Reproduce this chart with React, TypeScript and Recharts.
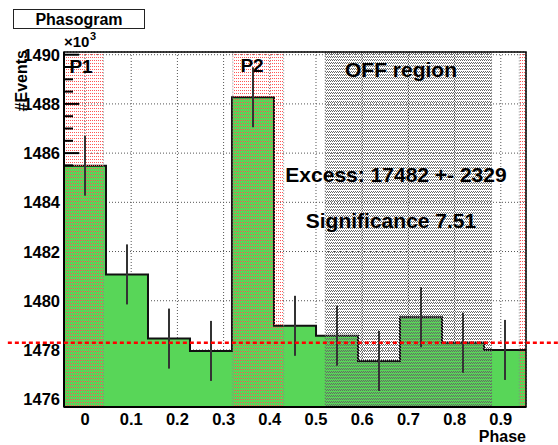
import {
  Area,
  CartesianGrid,
  ComposedChart,
  ErrorBar,
  ReferenceArea,
  ReferenceLine,
  Scatter,
  XAxis,
  YAxis,
} from "recharts"

// Phasogram, counts per phase bin in units of 10^3 events
const binCenters = [0, 0.0909, 0.1818, 0.2727, 0.3636, 0.4545, 0.5455, 0.6364, 0.7273, 0.8182, 0.9091]
const binWidth = 0.0909
const counts = [1485.49, 1481.07, 1478.46, 1477.96, 1488.27, 1478.98, 1478.58, 1477.55, 1479.33, 1478.29, 1478.0]
const errors = [1.22, 1.22, 1.22, 1.22, 1.22, 1.22, 1.22, 1.22, 1.22, 1.22, 1.22]
const offLevel = 1478.29

// phase regions
const p1Regions = [
  [-0.0455, 0.04],
  [0.94, 0.9545],
]
const p2Region = [0.32, 0.43]
const offRegion = [0.52, 0.88]

const xTicks = [0, 0.1, 0.2, 0.3, 0.4, 0.5, 0.6, 0.7, 0.8, 0.9]
const yTicks = [1476, 1478, 1480, 1482, 1484, 1486, 1488, 1490]
const yMinorTicks = [1476.5, 1477, 1477.5, 1478.5, 1479, 1479.5, 1480.5, 1481, 1481.5, 1482.5, 1483, 1483.5, 1484.5, 1485, 1485.5, 1486.5, 1487, 1487.5, 1488.5, 1489, 1489.5]

const xDomain = [-0.04545, 0.95455]
const yDomain = [1475.68, 1490.11]
const lineSpan = [-0.167, 1.03]

const FONT = '"Liberation Sans", Arial, Helvetica, sans-serif'
const GREEN = "#58d658"

const stepData = [
  ...binCenters.map((c, i) => ({ x: c - binWidth / 2, y: counts[i] })),
  { x: binCenters[binCenters.length - 1] + binWidth / 2, y: counts[counts.length - 1] },
]
const errData = binCenters.map((c, i) => ({ x: c, y: counts[i], err: errors[i] }))

// ticks are hidden under the filled histogram in the original
const visibleMajor = yTicks.filter((t) => t > counts[0])
const visibleMinor = yMinorTicks.filter((t) => t > counts[0])

const noLabel = () => <g />

const XTick = (props: any) => {
  const { x, y, payload } = props
  const v = payload.value
  return (
    <text x={x} y={y} dy={11.5} textAnchor="middle" fontSize={16.5} fontWeight={700} fill="#000" fontFamily={FONT}>
      {v === 0 ? "0" : v.toFixed(1)}
    </text>
  )
}

const YTick = (props: any) => {
  const { x, y, payload } = props
  return (
    <text x={x} y={y} dy={6} textAnchor="end" fontSize={16.5} fontWeight={700} fill="#000" fontFamily={FONT}>
      {payload.value}
    </text>
  )
}

export default function App() {
  return (
    <div style={{ position: "absolute", left: 0, top: 0, width: 558, height: 445, background: "#fff", fontFamily: FONT }}>
      <ComposedChart width={558} height={445} data={stepData} margin={{ top: 52, right: 32, left: 24, bottom: 8 }}>
        <defs>
          <pattern id="pinkDots" x="0" y="0" width="2" height="3" patternUnits="userSpaceOnUse">
            <rect x="0" y="0" width="1" height="1" fill="#ff5555" />
          </pattern>
          <pattern id="grayDots" x="0" y="0" width="2" height="3" patternUnits="userSpaceOnUse">
            <rect x="0" y="0" width="1" height="1" fill="#666" />
            <rect x="1" y="2" width="1" height="1" fill="#666" />
          </pattern>
        </defs>
        <CartesianGrid stroke="#555" strokeDasharray="1 2" />
        <XAxis
          dataKey="x"
          type="number"
          domain={xDomain}
          allowDataOverflow
          ticks={xTicks}
          interval={0}
          tick={XTick}
          tickLine={false}
          tickSize={0}
          tickMargin={6}
          height={30}
          axisLine={{ stroke: "#000", strokeWidth: 2 }}
        />
        <YAxis
          type="number"
          domain={yDomain}
          allowDataOverflow
          ticks={yTicks}
          interval={0}
          tick={YTick}
          tickLine={false}
          tickSize={0}
          tickMargin={4}
          width={40}
          axisLine={{ stroke: "#000", strokeWidth: 2 }}
        />
        <Area
          type="stepAfter"
          dataKey="y"
          fill={GREEN}
          fillOpacity={1}
          stroke="#111"
          strokeWidth={2}
          isAnimationActive={false}
          dot={false}
          activeDot={false}
        />
        {p1Regions.map((r, i) => (
          <ReferenceArea
            key={i}
            x1={r[0]}
            x2={r[1]}
            ifOverflow="hidden"
            fill="url(#pinkDots)"
            fillOpacity={1}
            stroke="#888"
            strokeDasharray="1 2"
            zIndex={150}
          />
        ))}
        <ReferenceArea
          x1={p2Region[0]}
          x2={p2Region[1]}
          ifOverflow="hidden"
          fill="url(#pinkDots)"
          fillOpacity={1}
          stroke="#888"
          strokeDasharray="1 2"
          zIndex={150}
        />
        <ReferenceArea
          x1={offRegion[0]}
          x2={offRegion[1]}
          ifOverflow="hidden"
          fill="url(#grayDots)"
          fillOpacity={1}
          stroke="#666"
          strokeDasharray="1 2"
          zIndex={150}
        />
        <YAxis
          yAxisId="major"
          orientation="left"
          mirror
          type="number"
          domain={yDomain}
          allowDataOverflow
          ticks={visibleMajor}
          interval={0}
          tick={noLabel}
          tickSize={15}
          tickLine={{ stroke: "#000", strokeWidth: 2 }}
          axisLine={false}
          width={1}
        />
        <YAxis
          yAxisId="minor"
          orientation="left"
          mirror
          type="number"
          domain={yDomain}
          allowDataOverflow
          ticks={visibleMinor}
          interval={0}
          tick={noLabel}
          tickSize={8}
          tickLine={{ stroke: "#000", strokeWidth: 2 }}
          axisLine={false}
          width={1}
        />
        <Scatter data={errData} dataKey="y" shape={noLabel} isAnimationActive={false} legendType="none">
          <ErrorBar dataKey="err" direction="y" width={0} stroke="#333" strokeWidth={2} isAnimationActive={false} />
        </Scatter>
        <ReferenceArea
          x1={xDomain[0]}
          x2={xDomain[1]}
          y1={yDomain[0]}
          y2={yDomain[1]}
          fill="none"
          stroke="#000"
          strokeWidth={1.5}
          zIndex={700}
        />
        <ReferenceLine
          segment={[
            { x: lineSpan[0], y: offLevel },
            { x: lineSpan[1], y: offLevel },
          ]}
          ifOverflow="visible"
          stroke="#f00"
          strokeWidth={2.5}
          strokeDasharray="4 3"
          zIndex={800}
        />
      </ComposedChart>
      <svg width={558} height={445} style={{ position: "absolute", left: 0, top: 0, pointerEvents: "none" }}>
        <g fontFamily={FONT} fontWeight={700} fill="#000">
          <rect x={13.5} y={9.5} width={131} height={19} fill="#fff" stroke="#222" strokeWidth={1} />
          <text x={79} y={25} fontSize={16} textAnchor="middle">Phasogram</text>
          <text x={64} y={47} fontSize={15}>×10</text>
          <text x={90} y={40} fontSize={11}>3</text>
          <text x={27} y={50} fontSize={16} textAnchor="end" transform="rotate(-90 27 50)">#Events</text>
          <text x={81} y={73} fontSize={19} textAnchor="middle">P1</text>
          <text x={252} y={72} fontSize={19} textAnchor="middle">P2</text>
          <text x={401} y={77} fontSize={21} textAnchor="middle">OFF region</text>
          <text x={396} y={182} fontSize={21} textAnchor="middle">Excess: 17482 +- 2329</text>
          <text x={391} y={228} fontSize={21} textAnchor="middle">Significance 7.51</text>
          <text x={526} y={442} fontSize={16} textAnchor="end">Phase</text>
        </g>
      </svg>
    </div>
  )
}
